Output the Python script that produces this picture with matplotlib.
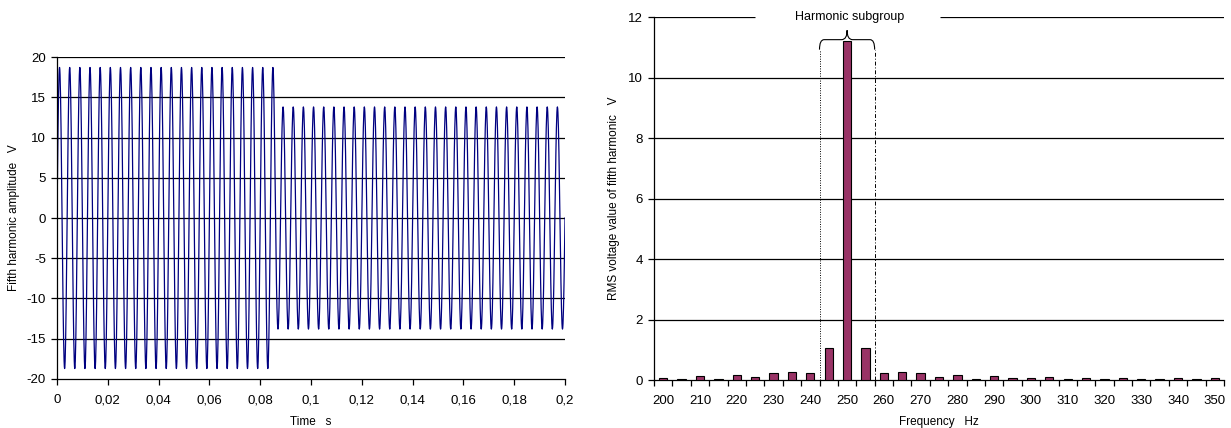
import numpy as np
import matplotlib.pyplot as plt
from matplotlib.path import Path
from matplotlib.patches import PathPatch
from matplotlib.ticker import FuncFormatter

plt.rcParams['font.family'] = ['Liberation Sans', 'DejaVu Sans']
plt.rcParams['axes.unicode_minus'] = False

# ---- left chart: fifth harmonic waveform ----
wave_freq = 250.0          # Hz
amplitudes = [18.7, 13.8]  # V, before / after the step
step_time = 0.086          # s
t_end = 0.2
dt = 0.0001

# ---- right chart: spectrum with 5 Hz resolution ----
freqs = list(range(200, 351, 5))
rms = [0.07, 0.05, 0.12, 0.02, 0.18, 0.09, 0.22, 0.28, 0.24, 1.05,
       11.2, 1.05, 0.24, 0.28, 0.22, 0.09, 0.17, 0.02, 0.12, 0.07,
       0.08, 0.09, 0.03, 0.08, 0.02, 0.06, 0.05, 0.05, 0.06, 0.02, 0.06]
freq_labels = [str(f) if (f - 200) % 10 == 0 else '' for f in freqs]

t = np.arange(0, t_end + dt / 2, dt)
amp = np.where(t < step_time, amplitudes[0], amplitudes[1])
u = amp * np.sin(2 * np.pi * wave_freq * t)

fig = plt.figure(figsize=(12.31, 4.28), dpi=100)

ax1 = fig.add_axes([0.0463, 0.1145, 0.4127, 0.7523])
for yv in range(-15, 21, 5):
    ax1.axhline(yv, color='black', lw=0.9, zorder=1)
ax1.plot(t, u, color='#000080', lw=0.9, zorder=2)
ax1.set_xlim(0, 0.2)
ax1.set_ylim(-20, 20)
ax1.set_xticks(np.arange(0, 0.2001, 0.02))
ax1.xaxis.set_major_formatter(FuncFormatter(lambda v, p: f"{v:.2f}".rstrip('0').rstrip('.').replace('.', ',')))
ax1.set_yticks(range(-20, 21, 5))
for s in ['top', 'right']:
    ax1.spines[s].set_visible(False)
for s in ['left', 'bottom']:
    ax1.spines[s].set_linewidth(0.9)
ax1.tick_params(labelsize=9.5, length=4, width=0.9)
ax1.tick_params(axis='x', pad=7)
ax1.tick_params(axis='y', pad=4)
ax1.set_xlabel('Time   s', fontsize=8.5, labelpad=7)
ax1.set_ylabel('Fifth harmonic amplitude   V', fontsize=8.5, labelpad=5)

ax2 = fig.add_axes([0.5313, 0.1121, 0.4630, 0.8475])
x = np.arange(len(freqs))
for yv in range(2, 11, 2):
    ax2.axhline(yv, color='black', lw=0.9, zorder=1)
# top gridline interrupted by the label
ax2.hlines(12, -0.5, 5.0, color='black', lw=0.9, zorder=1)
ax2.hlines(12, 15.05, 30.5, color='black', lw=0.9, zorder=1)
ax2.bar(x, rms, width=0.45, color='#993366', edgecolor='black', lw=0.8, zorder=3)
ax2.set_xlim(-0.5, len(freqs) - 0.5)
ax2.set_ylim(0, 12)
ax2.set_yticks(range(0, 13, 2))
ax2.set_xticks(x)
ax2.set_xticklabels(freq_labels)
ax2.set_xticks(np.arange(-0.5, len(freqs), 1), minor=True)
ax2.tick_params(axis='x', which='major', length=0, labelsize=9.5, pad=11)
ax2.tick_params(axis='x', which='minor', length=4, width=0.9)
ax2.tick_params(axis='y', labelsize=9.5, length=4, width=0.9, pad=4)
for s in ['top', 'right']:
    ax2.spines[s].set_visible(False)
for s in ['left', 'bottom']:
    ax2.spines[s].set_linewidth(0.9)
ax2.set_xlabel('Frequency   Hz', fontsize=8.5, labelpad=6)
ax2.set_ylabel('RMS voltage value of fifth harmonic   V', fontsize=8.5, labelpad=6)

# harmonic subgroup brace and bounds
xl, xc, xr = 8.5, 10.0, 11.5
yb, ym, yt = 10.93, 11.26, 11.57
verts = [(xl, yb), (xl, ym), (xl + 0.25, ym),
         (xc - 0.3, ym),
         (xc, ym), (xc, yt),
         (xc, ym), (xc + 0.3, ym),
         (xr - 0.25, ym),
         (xr, ym), (xr, yb)]
codes = [Path.MOVETO, Path.CURVE3, Path.CURVE3,
         Path.LINETO,
         Path.CURVE3, Path.CURVE3,
         Path.CURVE3, Path.CURVE3,
         Path.LINETO,
         Path.CURVE3, Path.CURVE3]
ax2.add_patch(PathPatch(Path(verts, codes), fill=False, lw=0.8, color='black', zorder=4))
ax2.plot([xl, xl], [0, yb], color='black', lw=0.7, ls=(0, (1, 1.5)), zorder=2)
ax2.plot([xr, xr], [0, yb], color='black', lw=0.7, ls=(0, (4, 2, 1, 2)), zorder=2)
ax2.text(10.15, 12.0, 'Harmonic subgroup', ha='center', va='center', fontsize=9)

fig.savefig('out.png', dpi=100)
